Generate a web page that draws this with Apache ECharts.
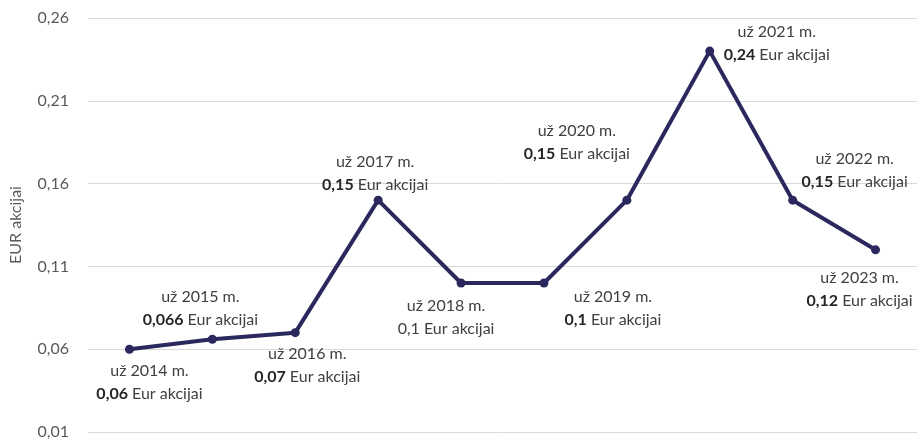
<!DOCTYPE html>
<html style="height: 100%">
<head>
	<meta charset="utf-8">
</head>
<body style="height: 100%; margin: 0; background: #fff">
<div id="container" style="width: 921px; height: 444px"></div>
<script type="text/javascript" src="https://cdn.jsdelivr.net/npm/echarts@6/dist/echarts.min.js"></script>
<script type="text/javascript">
	var years = ['2014', '2015', '2016', '2017', '2018', '2019', '2020', '2021', '2022', '2023'];
	var dividends = [0.06, 0.066, 0.07, 0.15, 0.1, 0.1, 0.15, 0.24, 0.15, 0.12];
	var yTicks = [0.01, 0.06, 0.11, 0.16, 0.21, 0.26];
	var axisName = 'EUR akcijai';

	// where each label block sits relative to its point (centre, px)
	var labelOffsets = [
		[20, 33], [-12, -31], [12, 33], [-3, -27], [-15, 34],
		[69, 25], [-50, -58], [67, -8], [62, -30], [-16, 40]
	];

	var myChart = echarts.init(document.getElementById('container'));

	function comma(v) {
		return String(v).replace('.', ',');
	}

	var pointData = [];
	for (var i = 0; i < years.length; i++) {
		var valTag = i === 4 ? 'n' : 'b';
		pointData.push({
			value: dividends[i],
			label: {
				show: true,
				position: 'inside',
				offset: labelOffsets[i],
				formatter: '{a|už ' + years[i] + ' m.}\n{' + valTag + '|' + comma(dividends[i]) + '}{a| Eur akcijai}'
			}
		});
	}

	var option = {
		backgroundColor: '#ffffff',
		animation: false,
		grid: {
			left: 84,
			right: 4,
			top: 18,
			bottom: 12,
			containLabel: false
		},
		xAxis: {
			type: 'category',
			data: years,
			boundaryGap: true,
			axisLine: { show: false },
			axisTick: { show: false },
			axisLabel: { show: false }
		},
		yAxis: {
			type: 'value',
			min: 0.01,
			max: 0.26,
			name: axisName,
			nameLocation: 'middle',
			nameRotate: 90,
			nameGap: 64,
			nameTextStyle: {
				color: '#595959',
				fontSize: 16,
				fontFamily: 'Lato'
			},
			axisLine: { show: false },
			axisTick: { show: false, customValues: yTicks },
			axisLabel: {
				customValues: yTicks,
				margin: 19,
				color: '#595959',
				fontSize: 16,
				fontFamily: 'Lato',
				formatter: function (v) {
					return comma(Math.round(v * 100) / 100);
				}
			},
			splitLine: {
				lineStyle: { color: '#d9d9d9', width: 1 }
			}
		},
		series: [{
			type: 'line',
			data: pointData,
			symbol: 'circle',
			symbolSize: 9,
			lineStyle: { color: '#2b285e', width: 4 },
			itemStyle: { color: '#2b285e' },
			label: {
				fontFamily: 'Lato',
				align: 'center',
				verticalAlign: 'middle',
				rich: {
					a: { color: '#404040', fontSize: 16, lineHeight: 23, fontFamily: 'Lato' },
					b: { color: '#262626', fontSize: 16, lineHeight: 23, fontWeight: 'bold', fontFamily: 'Lato' },
					n: { color: '#404040', fontSize: 16, lineHeight: 23, fontFamily: 'Lato' }
				}
			}
		}]
	};

	myChart.setOption(option, true);
</script>
</body>
</html>
